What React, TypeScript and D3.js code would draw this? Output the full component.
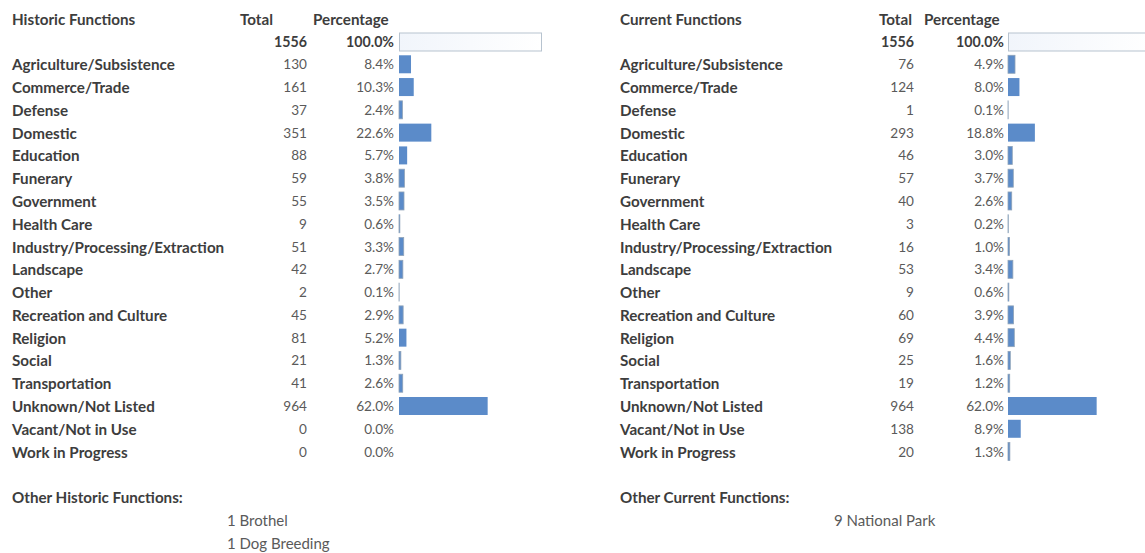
import React, { useEffect, useRef } from 'react';
import * as d3 from 'd3';

// Row categories (same for both panels)
const categories = [
  'Agriculture/Subsistence',
  'Commerce/Trade',
  'Defense',
  'Domestic',
  'Education',
  'Funerary',
  'Government',
  'Health Care',
  'Industry/Processing/Extraction',
  'Landscape',
  'Other',
  'Recreation and Culture',
  'Religion',
  'Social',
  'Transportation',
  'Unknown/Not Listed',
  'Vacant/Not in Use',
  'Work in Progress',
];

const grandTotal = 1556;
const grandPct = 100.0;

const historicTotals = [130, 161, 37, 351, 88, 59, 55, 9, 51, 42, 2, 45, 81, 21, 41, 964, 0, 0];
const historicPcts = [8.4, 10.3, 2.4, 22.6, 5.7, 3.8, 3.5, 0.6, 3.3, 2.7, 0.1, 2.9, 5.2, 1.3, 2.6, 62.0, 0.0, 0.0];

const currentTotals = [76, 124, 1, 293, 46, 57, 40, 3, 16, 53, 9, 60, 69, 25, 19, 964, 138, 20];
const currentPcts = [4.9, 8.0, 0.1, 18.8, 3.0, 3.7, 2.6, 0.2, 1.0, 3.4, 0.6, 3.9, 4.4, 1.6, 1.2, 62.0, 8.9, 1.3];

const otherHistoric = ['1 Brothel', '1 Dog Breeding'];
const otherCurrent = ['9 National Park'];

const WIDTH = 1145;
const HEIGHT = 553;
const FONT = 'Lato, "Open Sans", sans-serif';
const LABEL_SIZE = 15.2;
const NUM_SIZE = 13.6;
const BOLD_COLOR = '#3d3d3d';
const TEXT_COLOR = '#5a5a5a';

interface Panel {
  title: string;
  otherTitle: string;
  totals: number[];
  pcts: number[];
  others: string[];
  labelX: number;
  totalHeadX: number;
  totalX: number;
  pctHeadX: number;
  pctX: number;
  barX: number;
  otherX: number;
}

const panels: Panel[] = [
  {
    title: 'Historic Functions',
    otherTitle: 'Other Historic Functions:',
    totals: historicTotals,
    pcts: historicPcts,
    others: otherHistoric,
    labelX: 12,
    totalHeadX: 240,
    totalX: 307,
    pctHeadX: 313,
    pctX: 394,
    barX: 399,
    otherX: 227,
  },
  {
    title: 'Current Functions',
    otherTitle: 'Other Current Functions:',
    totals: currentTotals,
    pcts: currentPcts,
    others: otherCurrent,
    labelX: 620,
    totalHeadX: 879,
    totalX: 914,
    pctHeadX: 924,
    pctX: 1004,
    barX: 1008,
    otherX: 834,
  },
];

export default function App() {
  const svgRef = useRef<SVGSVGElement>(null);

  useEffect(() => {
    if (!svgRef.current) return;
    const svg = d3.select(svgRef.current);
    svg.selectAll('*').remove();

    // row index -> center y (0 = grand total row)
    const y = d3.scaleLinear().domain([0, 16]).range([41.5, 406]);
    // percentage -> bar length
    const x = d3.scaleLinear().domain([0, 100]).range([0, 143]);
    const barH = 18;

    svg.append('rect').attr('width', WIDTH).attr('height', HEIGHT).attr('fill', '#fff');

    const defs = svg.append('defs');
    const grad = defs
      .append('linearGradient')
      .attr('id', 'totalGrad')
      .attr('x1', '0%')
      .attr('x2', '100%');
    grad.append('stop').attr('offset', '0%').attr('stop-color', '#f1f5fb');
    grad.append('stop').attr('offset', '100%').attr('stop-color', '#ffffff');

    const label = (
      g: d3.Selection<SVGGElement, unknown, null, undefined>,
      tx: number,
      ty: number,
      txt: string,
      bold: boolean,
      size: number,
      anchor = 'start'
    ) =>
      g
        .append('text')
        .attr('x', tx)
        .attr('y', ty)
        .attr('dominant-baseline', 'central')
        .attr('text-anchor', anchor)
        .attr('font-size', size)
        .attr('font-weight', bold ? 700 : 400)
        .attr('fill', bold ? BOLD_COLOR : TEXT_COLOR)
        .text(txt);

    panels.forEach((p) => {
      const g = svg.append('g').style('font-family', FONT) as d3.Selection<
        SVGGElement,
        unknown,
        null,
        undefined
      >;

      // headers
      label(g, p.labelX, y(-1), p.title, true, LABEL_SIZE);
      label(g, p.totalHeadX, y(-1), 'Total', true, LABEL_SIZE);
      label(g, p.pctHeadX, y(-1), 'Percentage', true, LABEL_SIZE);

      // grand total row
      label(g, p.totalX, y(0), String(grandTotal), true, 14.2, 'end');
      label(g, p.pctX, y(0), grandPct.toFixed(1) + '%', true, 14.2, 'end');
      g.append('rect')
        .attr('x', p.barX + 0.5)
        .attr('y', y(0) - barH / 2 + 0.5)
        .attr('width', x(grandPct) - 1)
        .attr('height', barH)
        .attr('fill', 'url(#totalGrad)')
        .attr('stroke', '#b7c3cf')
        .attr('stroke-width', 1);

      // category rows
      categories.forEach((c, i) => {
        const cy = y(i + 1);
        label(g, p.labelX, cy, c, true, LABEL_SIZE);
        label(g, p.totalX, cy, String(p.totals[i]), false, NUM_SIZE, 'end');
        label(g, p.pctX, cy, p.pcts[i].toFixed(1) + '%', false, NUM_SIZE, 'end');
        if (p.pcts[i] > 0) {
          g.append('rect')
            .attr('x', p.barX)
            .attr('y', cy - barH / 2)
            .attr('width', x(p.pcts[i]))
            .attr('height', barH)
            .attr('fill', '#5b8bc9')
            .attr('stroke', p.pcts[i] < 5 ? '#8fa3b8' : 'none')
            .attr('stroke-width', 0.8);
        }
      });

      // other functions
      label(g, p.labelX, y(20), p.otherTitle, true, LABEL_SIZE);
      p.others.forEach((o, k) => {
        label(g, p.otherX, y(21 + k), o, false, 15);
      });
    });
  }, []);

  return (
    <svg
      ref={svgRef}
      width={WIDTH}
      height={HEIGHT}
      style={{ position: 'absolute', left: 0, top: 0 }}
    />
  );
}
